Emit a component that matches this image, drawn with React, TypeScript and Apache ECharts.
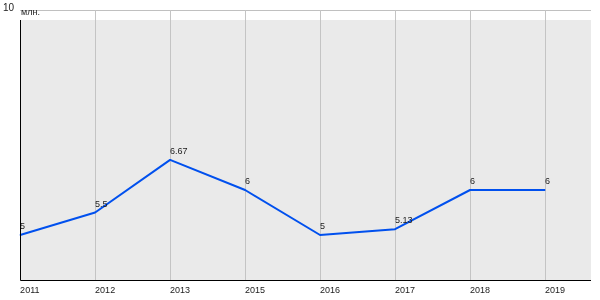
import React, { useEffect, useRef } from "react";
import * as echarts from "echarts";

const categories = ["2011", "2012", "2013", "2015", "2016", "2017", "2018", "2019"];
const values = [5, 5.5, 6.67, 6, 5, 5.13, 6, 6];
const yTickLabels = ["10"];
const unitLabel = "млн.";

const FONT = "'Liberation Sans', Arial, sans-serif";

export default function App() {
  const ref = useRef<HTMLDivElement>(null);
  useEffect(() => {
    if (!ref.current) return;
    const chart = echarts.init(ref.current, undefined, { renderer: "svg" });
    const data = categories.map((c, i) => [i, values[i]]);
    chart.setOption({
      animation: false,
      textStyle: { fontFamily: FONT },
      grid: { left: 20, right: 9, top: 10, bottom: 20, containLabel: false },
      xAxis: {
        type: "value",
        min: 0,
        max: 7.613,
        interval: 1,
        axisLine: { show: false },
        axisTick: { show: false },
        axisLabel: {
          align: "left",
          fontSize: 9,
          color: "#222",
          margin: 5,
          fontFamily: FONT,
          showMaxLabel: false,
          formatter: (v: number) => (Number.isInteger(v) && categories[v] ? categories[v] : ""),
        },
        splitLine: {
          show: true,
          showMinLine: false,
          showMaxLine: false,
          lineStyle: { color: "#c4c4c4", width: 1 },
        },
      },
      yAxis: {
        type: "value",
        min: 4,
        max: 10,
        interval: 2,
        axisLine: { show: false },
        axisTick: { show: false },
        axisLabel: {
          fontSize: 10,
          color: "#222",
          margin: 6,
          verticalAlign: "bottom",
          lineHeight: 6,
          fontFamily: FONT,
          formatter: (v: number) => (yTickLabels.includes(String(v)) ? String(v) : ""),
        },
        splitLine: {
          show: true,
          lineStyle: { color: ["transparent", "transparent", "transparent", "#c0c0c0"], width: 1 },
        },
      },
      graphic: [
        {
          type: "rect",
          z: -10,
          silent: true,
          shape: { x: 20, y: 20, width: 571, height: 260 },
          style: { fill: "#eaeaea" },
        },
        {
          type: "polyline",
          z: 10,
          silent: true,
          shape: { points: [[20.5, 20], [20.5, 280.5], [591, 280.5]] },
          style: { stroke: "#000", lineWidth: 1, fill: null },
        },
        {
          type: "text",
          z: 10,
          silent: true,
          x: 21,
          y: 12,
          style: {
            text: unitLabel,
            fontSize: 9,
            fontFamily: FONT,
            fill: "#222",
            verticalAlign: "middle",
          },
        },
      ],
      series: [
        {
          type: "line",
          data,
          symbol: "circle",
          symbolSize: 1,
          z: 5,
          lineStyle: { color: "#0050ee", width: 2 },
          itemStyle: { color: "#0050ee" },
          label: {
            show: true,
            position: "top",
            distance: 4,
            align: "left",
            fontSize: 9,
            color: "#222",
            fontFamily: FONT,
            formatter: (p: any) => String(p.value[1]),
          },
        },
      ],
    });
    return () => chart.dispose();
  }, []);
  return (
    <div
      ref={ref}
      style={{ position: "fixed", left: 0, top: 0, width: 600, height: 300 }}
    />
  );
}
